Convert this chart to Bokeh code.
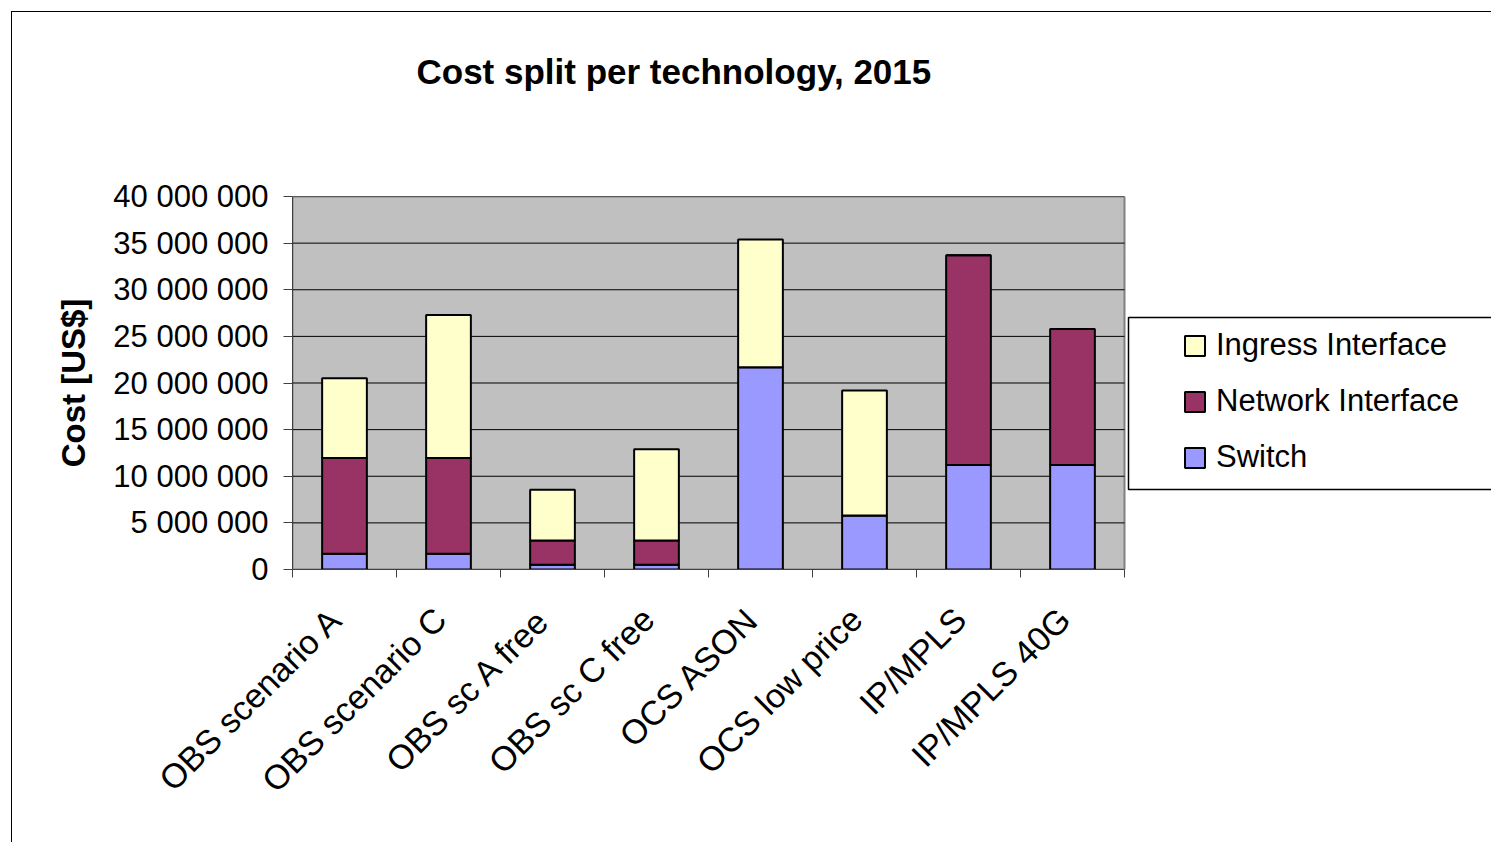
from bokeh.plotting import figure
from bokeh.models import (ColumnDataSource, Range1d, FixedTicker, Legend, LegendItem,
                          LinearAxis)
from bokeh.embed import file_html
from bokeh.resources import INLINE

categories = ["OBS scenario A", "OBS scenario C", "OBS sc A free", "OBS sc C free",
              "OCS ASON", "OCS low price", "IP/MPLS", "IP/MPLS 40G"]
switch = [1700000, 1700000, 500000, 500000, 21700000, 5800000, 11200000, 11200000]
network = [10250000, 10250000, 2600000, 2600000, 0, 0, 22500000, 14600000]
ingress = [8550000, 15350000, 5450000, 9800000, 13700000, 13400000, 0, 0]
series = ["Switch", "Network Interface", "Ingress Interface"]
colors = ["#9999FF", "#993366", "#FFFFCC"]
y_ticks = [0, 5000000, 10000000, 15000000, 20000000, 25000000, 30000000, 35000000, 40000000]
y_max = 40000000
title_text = "Cost split per technology, 2015"

FONT = "Liberation Sans"

# layout geometry (page pixels); canvas starts at page (12, 12) because of the outer border
OFF = 12
FRAME_L, FRAME_R_AXIS, FRAME_B, FRAME_T = 292, 1124, 569, 196
W, H = 1492 - OFF, 843 - OFF
n = len(categories)
px_per_unit = (FRAME_R_AXIS - FRAME_L) / n
px_per_val = (FRAME_B - FRAME_T) / y_max


def dx(px):
    return (px - FRAME_L) / px_per_unit


def dy(py):
    return (FRAME_B - py) / px_per_val


xpos = [i + 0.5 for i in range(n)]
label_pos = [x - 0.08 for x in xpos]
source = ColumnDataSource(data={"x": xpos, "Switch": switch, "Network Interface": network,
                                "Ingress Interface": ingress})

p = figure(width=W, height=H, output_backend="svg", toolbar_location=None,
           x_range=Range1d(0, dx(1492)), y_range=Range1d(0, y_max),
           min_border_left=FRAME_L - OFF, min_border_right=0, min_border_top=FRAME_T - OFF,
           min_border_bottom=843 - FRAME_B)
p.margin = (OFF - 1, 0, 0, OFF - 1)
p.styles = {"border-top": "1px solid black", "border-left": "1px solid black"}

p.background_fill_color = "white"
p.border_fill_color = "white"
p.outline_line_color = None
p.xgrid.visible = False
p.ygrid.visible = False

# title
p.title.text = title_text
p.title.text_font = FONT
p.title.text_font_size = "35px"
p.title.text_font_style = "bold"
p.title.text_color = "black"
p.title.align = "left"
p.title.offset = 418 - FRAME_L - 2
p.title.vertical_align = "top"
p.title.standoff = 0

# invisible spacer axis between the title and the plot area
spacer = LinearAxis(ticker=FixedTicker(ticks=[1.0]), major_label_overrides={1.0: ""},
                    axis_line_color=None, major_tick_line_color=None,
                    minor_tick_line_color=None, major_tick_out=104, major_tick_in=0,
                    minor_tick_out=0, major_label_standoff=0)
p.add_layout(spacer, "above")

# plot area
p.quad(left=[0], right=[n], bottom=[0], top=[y_max], fill_color="#C0C0C0",
       line_color="#808080", line_width=2)
p.segment(x0=[0] * (len(y_ticks) - 1), x1=[n] * (len(y_ticks) - 1), y0=y_ticks[1:],
          y1=y_ticks[1:], line_color="black", line_width=1)

renderers = p.vbar_stack(series, x="x", width=0.43, source=source, fill_color=colors,
                         line_color="black", line_width=2)

# x axis
xa = p.below[0]
xa.bounds = (0, n)
xa.ticker = FixedTicker(ticks=label_pos, minor_ticks=list(range(n + 1)))
xa.major_label_overrides = {x: c for x, c in zip(label_pos, categories)}
xa.major_tick_out = 0
xa.major_tick_in = 0
xa.minor_tick_out = 8
xa.minor_tick_in = 0
xa.minor_tick_line_color = "#404040"
xa.axis_line_color = "#404040"
xa.major_label_orientation = 0.785398
xa.major_label_text_font = FONT
xa.major_label_text_font_size = "34px"
xa.major_label_text_color = "black"
xa.major_label_standoff = 36

# y axis
ya = p.left[0]
ya.ticker = FixedTicker(ticks=y_ticks)
ya.major_label_overrides = {v: f"{v:,}".replace(",", " ") for v in y_ticks}
ya.minor_tick_line_color = None
ya.major_tick_out = 9
ya.major_tick_in = 0
ya.major_tick_line_color = "#404040"
ya.axis_line_color = "#404040"
ya.major_label_text_font = FONT
ya.major_label_text_font_size = "31px"
ya.major_label_text_color = "black"
ya.major_label_standoff = 15
ya.axis_label = "Cost [US$]"
ya.axis_label_text_font = FONT
ya.axis_label_text_font_style = "bold"
ya.axis_label_text_font_size = "33px"
ya.axis_label_text_color = "black"
ya.axis_label_standoff = 18

# legend box
p.quad(left=[dx(1128)], right=[dx(1520)], bottom=[dy(489)], top=[dy(317)],
       fill_color="white", line_color="black", line_width=1.5)

items = [LegendItem(label=s, renderers=[r]) for s, r in zip(series, renderers)][::-1]
legend = Legend(items=items, location=(1182 - FRAME_L, FRAME_B - 475), padding=0, spacing=20,
                glyph_width=25, glyph_height=25, label_standoff=9,
                label_text_font=FONT, label_text_font_size="31px", label_text_color="black",
                border_line_color=None, background_fill_alpha=0, margin=0)
p.add_layout(legend, "center")

open("out.html", "w").write(file_html(p, INLINE))
